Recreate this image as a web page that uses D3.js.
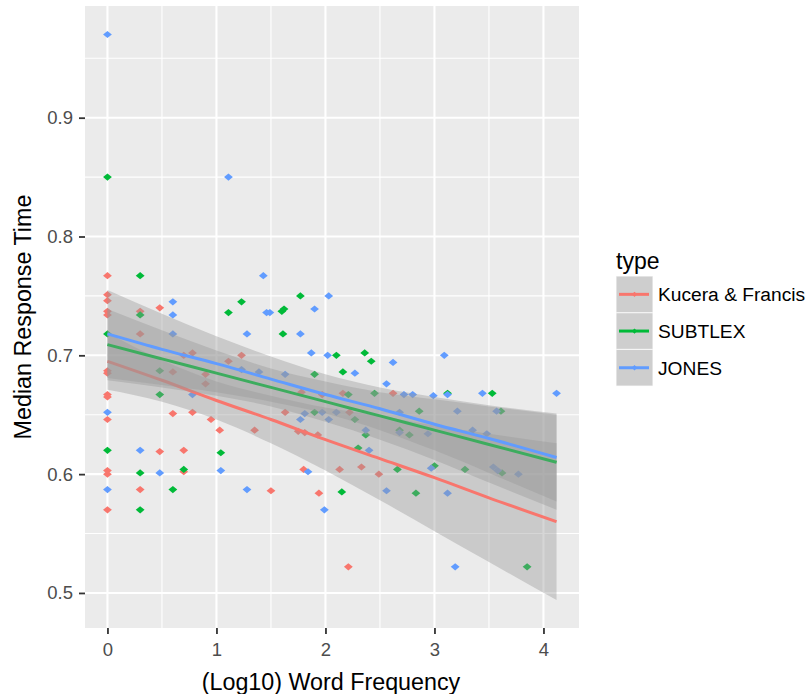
<!DOCTYPE html>
<html><head><meta charset="utf-8">
<script src="https://cdn.jsdelivr.net/npm/d3@7"></script>
<style>
body{margin:0;background:#fff;}
text{font-family:"Liberation Sans",Arial,Helvetica,sans-serif;}
</style>
</head><body>
<svg id="chart" width="809" height="694"></svg>
<script>
// ---------------- data ----------------
const categories = ["Kucera & Francis", "SUBTLEX", "JONES"];
const colors = ["#F8766D", "#00BA38", "#619CFF"];

const kfX = [0,0,0,0,0,0,0,0,0,0,0,0,0, 0.30,0.30,0.30, 0.48,0.48, 0.60,0.60, 0.70,0.70,0.70, 0.78,0.78, 0.90,0.90,
  0.95,1.03,1.11,1.23,1.35,1.50,
  1.63,1.75,1.78,1.80,1.81,1.93,1.94,1.97,2.13,2.16,2.21,2.22,2.33,2.49,2.62];
const kfY = [0.767,0.751,0.746,0.737,0.734,0.687,0.685,0.667,0.665,0.646,0.603,0.600,0.570, 0.737,0.718,0.587, 0.740,0.619, 0.686,0.651, 0.700,0.620,0.602, 0.702,0.652, 0.684,0.676,
  0.646,0.637,0.695,0.700,0.637,0.586,
  0.652,0.636,0.669,0.604,0.635,0.633,0.584,0.667,0.604,0.668,0.522,0.652,0.606,0.600,0.668];

const subX = [0,0,0, 0.30,0.30,0.30,0.30, 0.48,0.48, 0.60, 0.70, 1.04, 1.11, 1.23, 1.60,1.62,1.61, 1.77, 1.90,1.90,
  2.10,2.15,2.16,2.21,2.27,2.30,2.36,2.37,2.42,2.45,2.66,2.68,2.77,2.83,2.86,3.00,3.12,3.28,3.53,3.61,3.62,3.85];
const subY = [0.850,0.718,0.620, 0.767,0.734,0.601,0.570, 0.687,0.667, 0.587, 0.604, 0.618, 0.736, 0.745, 0.737,0.739,0.718, 0.750, 0.684,0.652,
  0.700,0.585,0.686,0.667,0.646,0.622,0.702,0.633,0.695,0.668,0.604,0.637,0.633,0.584,0.653,0.607,0.668,0.604,0.668,0.653,0.601,0.522];

const jonesX = [0,0,0, 0.30, 0.48, 0.60,0.60,0.60, 0.78, 1.04, 1.11, 1.23, 1.28,1.28, 1.39, 1.43, 1.46,1.49, 1.63, 1.77,1.77,
  1.81, 1.84, 1.87, 1.90, 1.97, 1.99, 2.02, 2.03,2.03, 2.10, 2.27, 2.37, 2.40, 2.56,2.56, 2.62, 2.68,2.68, 2.72,2.80,
  2.94, 2.97, 2.99, 3.09, 3.12,3.12, 3.19, 3.21, 3.35, 3.44, 3.48, 3.54,3.58, 3.57, 3.77, 4.12];
const jonesY = [0.970,0.652,0.587, 0.620, 0.601, 0.745,0.734,0.718, 0.667, 0.603, 0.850, 0.688, 0.718,0.587, 0.686, 0.767, 0.736,0.736, 0.684, 0.718,0.646,
  0.651, 0.602, 0.702, 0.739, 0.652, 0.570, 0.700, 0.750,0.646, 0.652, 0.685, 0.637, 0.620, 0.676,0.586, 0.694, 0.652,0.635, 0.667,0.667,
  0.634, 0.605, 0.666, 0.700, 0.667,0.584, 0.522, 0.653, 0.637, 0.668, 0.634, 0.606,0.603, 0.653, 0.600, 0.668];

// fitted smooth (lm) values and 95% band
const fitX   = [0, 0.5, 1, 1.5, 2, 2.5, 3, 3.5, 4.12];
const kfFit  = [0.695, 0.679, 0.662, 0.646, 0.629, 0.613, 0.597, 0.580, 0.560];
const kfLo   = [0.671, 0.661, 0.646, 0.626, 0.603, 0.578, 0.552, 0.526, 0.494];
const kfHi   = [0.719, 0.696, 0.678, 0.666, 0.656, 0.649, 0.641, 0.634, 0.626];
const subFit = [0.709, 0.697, 0.685, 0.673, 0.661, 0.649, 0.637, 0.625, 0.610];
const subLo  = [0.679, 0.673, 0.666, 0.657, 0.644, 0.629, 0.612, 0.593, 0.570];
const subHi  = [0.739, 0.721, 0.704, 0.689, 0.678, 0.669, 0.663, 0.657, 0.650];
const jonFit = [0.718, 0.705, 0.693, 0.680, 0.667, 0.655, 0.642, 0.630, 0.614];
const jonLo  = [0.681, 0.675, 0.669, 0.661, 0.651, 0.637, 0.620, 0.601, 0.577];
const jonHi  = [0.755, 0.735, 0.716, 0.699, 0.684, 0.673, 0.665, 0.658, 0.651];

const xTicks = [0, 1, 2, 3, 4];
const xMinor = [0.5, 1.5, 2.5, 3.5];
const yTicks = [0.5, 0.6, 0.7, 0.8, 0.9];
const yMinor = [0.55, 0.65, 0.75, 0.85, 0.95];
const xTitle = "(Log10) Word Frequency";
const yTitle = "Median Response Time";
const legendTitle = "type";

// ---------------- layout ----------------
const svg = d3.select("#chart");
const P = {left: 85, right: 579, top: 6, bottom: 628};
const x = d3.scaleLinear().domain([-0.206, 4.326]).range([P.left, P.right]);
const y = d3.scaleLinear().domain([0.4705, 0.994]).range([P.bottom, P.top]);
const color = d3.scaleOrdinal().domain(categories).range(colors);

svg.append("rect").attr("width", 809).attr("height", 694).attr("fill", "#fff");
svg.append("rect").attr("x", P.left).attr("y", P.top)
  .attr("width", P.right - P.left).attr("height", P.bottom - P.top).attr("fill", "#EBEBEB");

const grid = svg.append("g");
grid.selectAll(".xm").data(xMinor).join("line")
  .attr("x1", d => x(d)).attr("x2", d => x(d)).attr("y1", P.top).attr("y2", P.bottom)
  .attr("stroke", "#fff").attr("stroke-width", 1.1);
grid.selectAll(".ym").data(yMinor).join("line")
  .attr("y1", d => y(d)).attr("y2", d => y(d)).attr("x1", P.left).attr("x2", P.right)
  .attr("stroke", "#fff").attr("stroke-width", 1.1);
grid.selectAll(".xM").data(xTicks).join("line")
  .attr("x1", d => x(d)).attr("x2", d => x(d)).attr("y1", P.top).attr("y2", P.bottom)
  .attr("stroke", "#fff").attr("stroke-width", 2.1);
grid.selectAll(".yM").data(yTicks).join("line")
  .attr("y1", d => y(d)).attr("y2", d => y(d)).attr("x1", P.left).attr("x2", P.right)
  .attr("stroke", "#fff").attr("stroke-width", 2.1);

// ---------------- points ----------------
const series = [
  {name: categories[0], xs: kfX, ys: kfY, fit: kfFit, lo: kfLo, hi: kfHi},
  {name: categories[1], xs: subX, ys: subY, fit: subFit, lo: subLo, hi: subHi},
  {name: categories[2], xs: jonesX, ys: jonesY, fit: jonFit, lo: jonLo, hi: jonHi}
];
const diamond = d3.symbol(d3.symbolSquare, 32);
const pts = svg.append("g");
series.forEach(s => {
  const data = d3.zip(s.xs, s.ys);
  pts.selectAll(null).data(data).join("path")
    .attr("d", diamond)
    .attr("transform", d => `translate(${x(d[0])},${y(d[1])}) scale(1.1,0.9) rotate(45)`)
    .attr("fill", color(s.name));
});

// ---------------- smooths ----------------
const sm = svg.append("g");
series.forEach(s => {
  const rows = fitX.map((fx, i) => ({x: fx, f: s.fit[i], lo: s.lo[i], hi: s.hi[i]}));
  sm.append("path").datum(rows)
    .attr("d", d3.area().x(d => x(d.x)).y0(d => y(d.lo)).y1(d => y(d.hi)).curve(d3.curveMonotoneX))
    .attr("fill", "#999999").attr("fill-opacity", 0.4);
  sm.append("path").datum(rows)
    .attr("d", d3.line().x(d => x(d.x)).y(d => y(d.f)).curve(d3.curveMonotoneX))
    .attr("fill", "none").attr("stroke", color(s.name)).attr("stroke-width", 3);
});

// ---------------- axes ----------------
const fmt = d3.format(".1f");
const gx = svg.append("g").attr("transform", `translate(0,${P.bottom})`)
  .call(d3.axisBottom(x).tickValues(xTicks).tickFormat(d3.format("d")).tickSize(6).tickPadding(9));
const gy = svg.append("g").attr("transform", `translate(${P.left},0)`)
  .call(d3.axisLeft(y).tickValues(yTicks).tickFormat(fmt).tickSize(6).tickPadding(6));
[gx, gy].forEach(g => {
  g.select(".domain").remove();
  g.selectAll(".tick line").attr("stroke", "#333333").attr("stroke-width", 1.8);
  g.selectAll(".tick text").attr("fill", "#4D4D4D").style("font-size", "18.5px")
    .style("font-family", '"Liberation Sans",Arial,sans-serif');
});

svg.append("text").attr("x", (P.left + P.right) / 2 - 1).attr("y", 690)
  .attr("text-anchor", "middle").style("font-size", "23.3px").attr("fill", "#000").text(xTitle);
svg.append("text").attr("transform", `translate(31,${(P.top + P.bottom) / 2}) rotate(-90)`)
  .attr("text-anchor", "middle").style("font-size", "23.3px").attr("fill", "#000").text(yTitle);

// ---------------- legend ----------------
const lg = svg.append("g");
const keyX = 616, keyY = 276, keyW = 37, keyH = 36.7;
lg.append("text").attr("x", keyX).attr("y", 269).style("font-size", "23px").attr("fill", "#000").text(legendTitle);
categories.forEach((c, i) => {
  const ky = keyY + i * keyH;
  lg.append("rect").attr("x", keyX).attr("y", ky).attr("width", keyW).attr("height", keyH).attr("fill", "#F2F2F2");
  lg.append("rect").attr("x", keyX + 0.6).attr("y", ky + 0.6).attr("width", keyW - 1.2).attr("height", keyH - 1.2)
    .attr("fill", "#999999").attr("fill-opacity", 0.4);
  lg.append("line").attr("x1", keyX + 3).attr("x2", keyX + keyW - 4)
    .attr("y1", ky + keyH / 2).attr("y2", ky + keyH / 2)
    .attr("stroke", color(c)).attr("stroke-width", 3);
  lg.append("path").attr("d", d3.symbol(d3.symbolSquare, 14))
    .attr("transform", `translate(${keyX + keyW / 2},${ky + keyH / 2}) rotate(45)`)
    .attr("fill", color(c));
  lg.append("text").attr("x", 658).attr("y", ky + keyH / 2 + 6.8)
    .style("font-size", "19.2px").attr("fill", "#000").text(c);
});
</script>
</body></html>
